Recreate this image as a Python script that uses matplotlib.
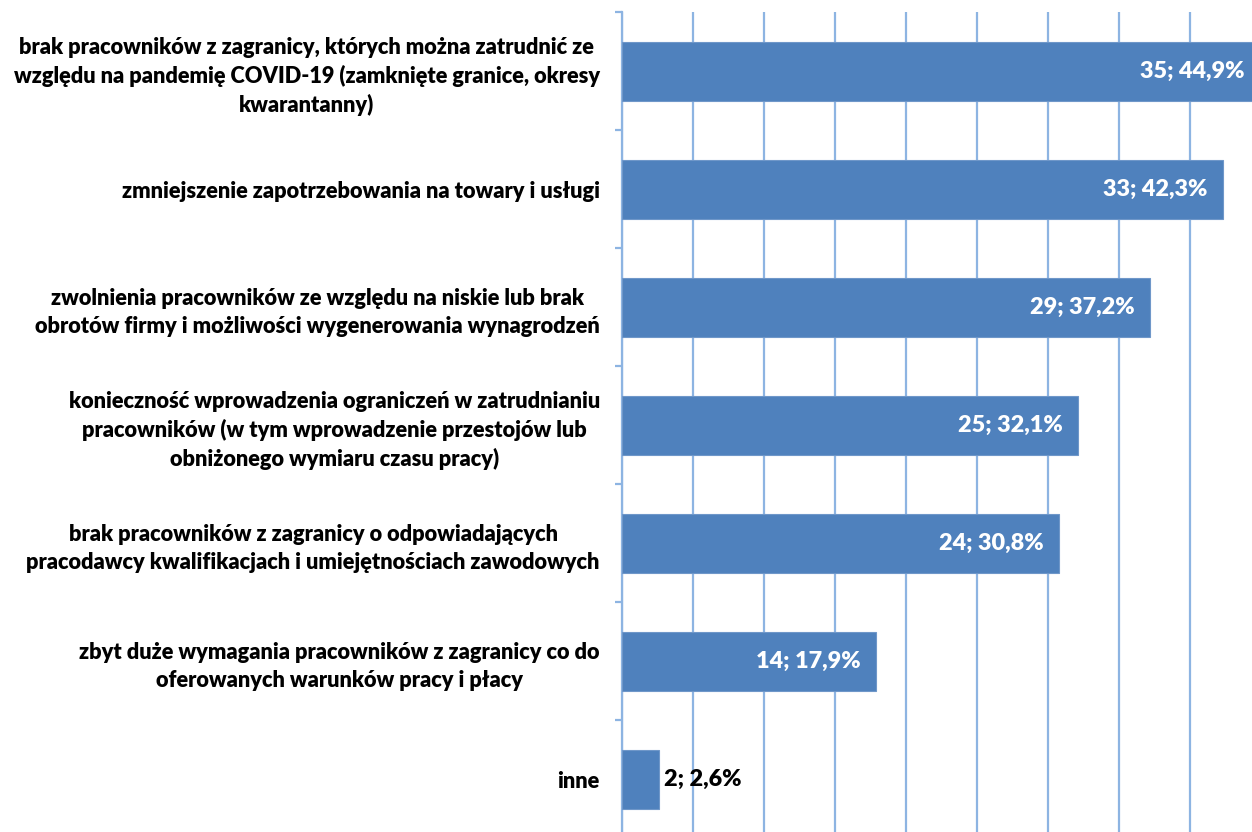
import matplotlib.pyplot as plt
from matplotlib.ticker import MultipleLocator, FixedLocator

kategorie = [
    "brak pracowników z zagranicy, których można zatrudnić ze\nwzględu na pandemię COVID-19 (zamknięte granice, okresy\nkwarantanny)",
    "zmniejszenie zapotrzebowania na towary i usługi",
    "zwolnienia pracowników ze względu na niskie lub brak\nobrotów firmy i możliwości wygenerowania wynagrodzeń",
    "konieczność wprowadzenia ograniczeń w zatrudnianiu\npracowników (w tym wprowadzenie przestojów lub\nobniżonego wymiaru czasu pracy)",
    "brak pracowników z zagranicy o odpowiadających\npracodawcy kwalifikacjach i umiejętnościach zawodowych",
    "zbyt duże wymagania pracowników z zagranicy co do\noferowanych warunków pracy i płacy",
    "inne",
]
liczby = [35, 33, 29, 25, 24, 14, 2]
procenty = [44.9, 42.3, 37.2, 32.1, 30.8, 17.9, 2.6]

kolor_slupka = "#4F81BD"
kolor_siatki = "#8DB4E2"
czcionka = "Lato"

fig = plt.figure(figsize=(12.52, 8.32), dpi=100)
ax = fig.add_axes([622 / 1252, -6 / 832, 710 / 1252, 826 / 832])

y = list(range(len(kategorie)))
ax.barh(y, procenty, height=0.5, color=kolor_slupka, edgecolor="#6F97C9",
        linewidth=0.8, zorder=3)

ax.set_xlim(0, 50)
ax.set_ylim(len(kategorie) - 0.5, -0.5)

ax.xaxis.set_major_locator(MultipleLocator(5))
ax.grid(axis="x", color=kolor_siatki, linewidth=1.6, zorder=0)
ax.tick_params(axis="x", length=0, labelbottom=False)

ax.set_yticks(y)
ax.set_yticklabels(kategorie, fontfamily=czcionka, fontweight="heavy",
                   fontsize=15.7, ha="right", multialignment="center",
                   linespacing=1.4)
ax.yaxis.set_minor_locator(FixedLocator([i - 0.5 for i in range(len(kategorie) + 1)]))
ax.tick_params(axis="y", which="major", length=0, pad=16)
ax.tick_params(axis="y", which="minor", length=5, width=1.6, color=kolor_siatki)

for s in ["top", "right", "bottom"]:
    ax.spines[s].set_visible(False)
ax.spines["left"].set_color(kolor_siatki)
ax.spines["left"].set_linewidth(1.6)

for yi, n, p in zip(y, liczby, procenty):
    tekst = f"{n}; {p:.1f}%".replace(".", ",")
    if p > 10:
        ax.annotate(tekst, (p, yi), xytext=(-11, 0), textcoords="offset points",
                    ha="right", va="center", color="white", fontweight="heavy",
                    fontfamily=czcionka, fontsize=16.8, zorder=4)
    else:
        ax.annotate(tekst, (p, yi), xytext=(4, 0), textcoords="offset points",
                    ha="left", va="center", color="black", fontweight="heavy",
                    fontfamily=czcionka, fontsize=16.8, zorder=4)

fig.savefig("out.png", dpi=100)
